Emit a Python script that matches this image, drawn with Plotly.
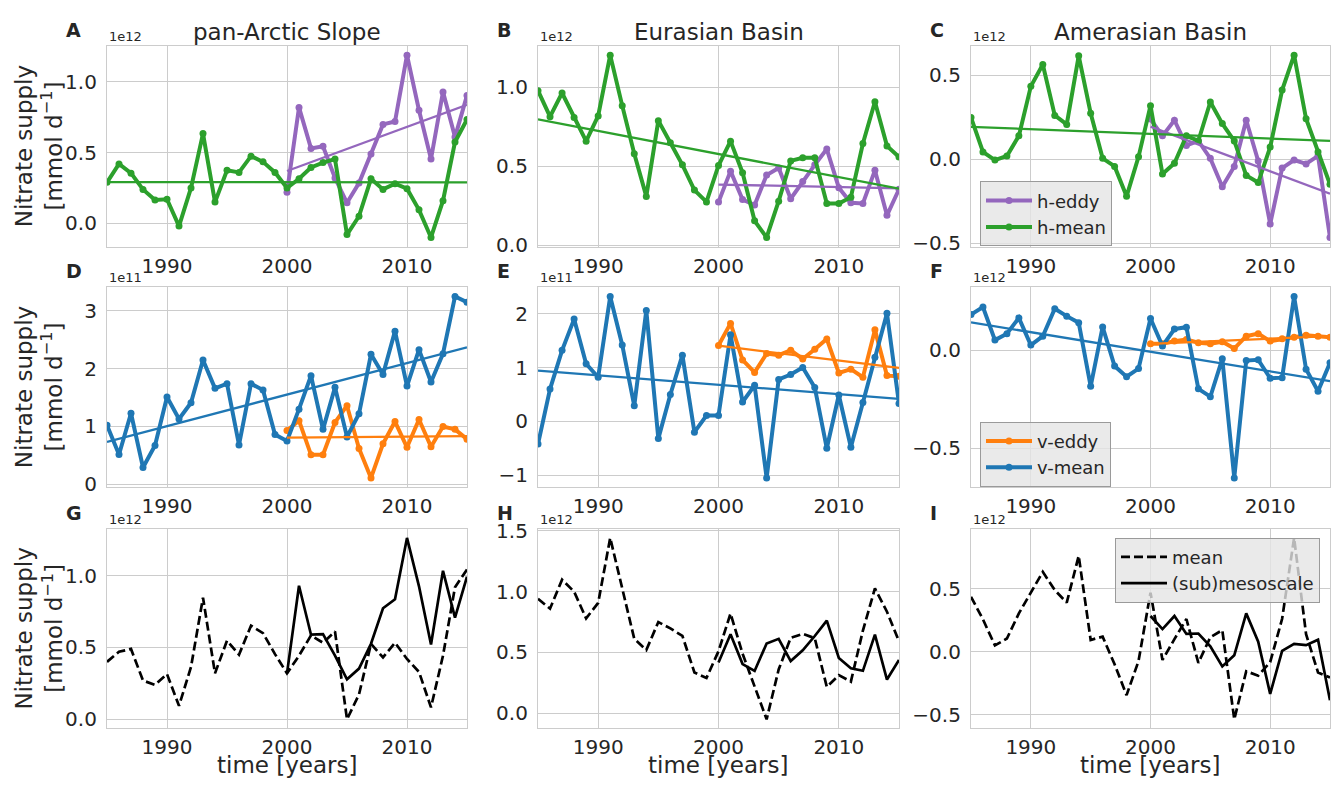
import numpy as np
import plotly.graph_objects as go

# ---------------------------------------------------------------------------
# Nitrate supply time series (mmol d-1)
# ---------------------------------------------------------------------------
years = list(range(1985, 2016))
years_eddy = list(range(2000, 2016))

# horizontal supply, units of 1e12
slope_h_mean = [0.29, 0.42, 0.355, 0.24, 0.165, 0.17, -0.02, 0.25, 0.635, 0.15, 0.375, 0.36,
                0.475, 0.435, 0.36, 0.25, 0.315, 0.395, 0.43, 0.455, -0.08, 0.05, 0.315, 0.24,
                0.28, 0.245, 0.095, -0.10, 0.16, 0.575, 0.735]
slope_h_eddy = [0.22, 0.82, 0.53, 0.545, 0.32, 0.145, 0.285, 0.49, 0.70, 0.72, 1.19, 0.80,
                0.455, 0.93, 0.61, 0.905]

eur_h_mean = [0.98, 0.815, 0.965, 0.81, 0.66, 0.82, 1.205, 0.885, 0.58, 0.31, 0.79, 0.65,
              0.51, 0.35, 0.275, 0.505, 0.66, 0.46, 0.155, 0.05, 0.28, 0.535, 0.555, 0.555,
              0.265, 0.265, 0.305, 0.645, 0.91, 0.63, 0.56]
eur_h_eddy = [0.275, 0.47, 0.29, 0.255, 0.445, 0.49, 0.295, 0.405, 0.51, 0.61, 0.365, 0.27,
              0.265, 0.475, 0.19, 0.355]

ame_h_mean = [0.25, 0.044, -0.004, 0.02, 0.14, 0.435, 0.565, 0.262, 0.208, 0.617, 0.275, 0.006,
              -0.042, -0.22, 0.015, 0.32, -0.087, -0.023, 0.14, 0.11, 0.342, 0.213, 0.11,
              -0.096, -0.138, 0.073, 0.413, 0.621, 0.242, 0.044, -0.148]
ame_h_eddy = [0.24, 0.14, 0.233, 0.083, 0.11, 0.006, -0.163, -0.042, 0.233, -0.01, -0.385,
              -0.052, -0.004, -0.027, 0.021, -0.465]

# vertical supply: slope and Eurasian in units of 1e11, Amerasian in 1e12
slope_v_mean = [1.02, 0.514, 1.23, 0.29, 0.67, 1.51, 1.13, 1.41, 2.15, 1.66, 1.74, 0.68, 1.74,
                1.63, 0.86, 0.75, 1.30, 1.88, 0.95, 1.68, 0.82, 1.22, 2.25, 1.90, 2.65, 1.70,
                2.33, 1.77, 2.26, 3.25, 3.15]
slope_v_eddy = [0.93, 1.10, 0.51, 0.51, 1.07, 1.36, 0.62, 0.11, 0.70, 1.085, 0.64, 1.12, 0.65,
                1.0, 0.95, 0.78]

eur_v_mean = [-0.42, 0.60, 1.32, 1.90, 1.07, 0.82, 2.32, 1.42, 0.29, 2.06, -0.32, 0.50, 1.23,
              -0.20, 0.11, 0.11, 1.61, 0.36, 0.67, -1.05, 0.78, 0.87, 1.0, 0.63, -0.50, 0.49,
              -0.48, 0.35, 1.19, 2.01, 0.33]
eur_v_eddy = [1.41, 1.82, 1.14, 0.91, 1.26, 1.23, 1.32, 1.16, 1.34, 1.53, 0.90, 0.97, 0.82,
              1.70, 0.85, 0.84]

ame_v_mean = [0.181, 0.219, 0.051, 0.084, 0.164, 0.026, 0.071, 0.211, 0.173, 0.14, -0.184,
              0.118, -0.081, -0.135, -0.094, 0.161, 0.021, 0.107, 0.117, -0.197, -0.237,
              -0.044, -0.65, -0.053, -0.049, -0.143, -0.14, 0.273, -0.097, -0.209, -0.064]
ame_v_eddy = [0.033, 0.033, 0.046, 0.054, 0.038, 0.033, 0.043, 0.008, 0.071, 0.084, 0.046,
              0.058, 0.066, 0.076, 0.071, 0.066]

# total supply, units of 1e12
slope_tot_mean = [0.40, 0.47, 0.49, 0.27, 0.24, 0.315, 0.094, 0.364, 0.847, 0.32, 0.548, 0.45,
                  0.652, 0.60, 0.454, 0.32, 0.443, 0.584, 0.533, 0.611, 0.0, 0.173, 0.526,
                  0.431, 0.533, 0.42, 0.33, 0.083, 0.443, 0.92, 1.043]
slope_tot_sub = [0.32, 0.93, 0.589, 0.593, 0.443, 0.279, 0.353, 0.526, 0.773, 0.836, 1.263,
                 0.926, 0.521, 1.034, 0.708, 0.993]

eur_tot_mean = [0.942, 0.86, 1.098, 1.0, 0.78, 0.907, 1.442, 1.03, 0.612, 0.52, 0.75, 0.698,
                0.636, 0.335, 0.29, 0.51, 0.82, 0.49, 0.22, -0.05, 0.36, 0.62, 0.653, 0.617,
                0.217, 0.313, 0.26, 0.68, 1.027, 0.835, 0.591]
eur_tot_sub = [0.417, 0.65, 0.404, 0.348, 0.574, 0.612, 0.429, 0.518, 0.635, 0.762, 0.454,
               0.37, 0.349, 0.646, 0.277, 0.438]

ame_tot_mean = [0.437, 0.257, 0.05, 0.105, 0.305, 0.47, 0.635, 0.49, 0.39, 0.762, 0.094, 0.12,
                -0.1, -0.345, -0.074, 0.47, -0.065, 0.1, 0.26, -0.088, 0.115, 0.172, -0.537,
                -0.155, -0.19, -0.083, 0.262, 0.905, 0.14, -0.165, -0.205]
ame_tot_sub = [0.284, 0.18, 0.284, 0.142, 0.145, 0.043, -0.117, -0.028, 0.305, 0.08, -0.335,
               0.007, 0.063, 0.052, 0.095, -0.385]

region_titles = ["pan-Arctic Slope", "Eurasian Basin", "Amerasian Basin"]
panel_letters = ["A", "B", "C", "D", "E", "F", "G", "H", "I"]
exponent_labels = ["1e12", "1e12", "1e12", "1e11", "1e11", "1e12", "1e12", "1e12", "1e12"]
xtick_years = [1990, 2000, 2010]

# ---------------------------------------------------------------------------
# Styling
# ---------------------------------------------------------------------------
W, H = 1333, 790
FONT = "DejaVu Sans"
TXT = "#262626"
GRID = "#cccccc"
PURPLE, GREEN = "#9467bd", "#2ca02c"
ORANGE, BLUE = "#ff7f0e", "#1f77b4"

col_px = [(107, 467), (538, 899), (971, 1330)]
row_px = [(37, 243), (285, 490), (533, 738)]

fig = go.Figure()


def axis_names(i):
    s = "" if i == 0 else str(i + 1)
    return "x" + s, "y" + s, "xaxis" + s, "yaxis" + s


def add_series(i, x, y, color, name=None, legend=None, markers=True, dash="solid", width=4):
    xa, ya, _, _ = axis_names(i)
    fig.add_trace(go.Scatter(
        x=x, y=y, xaxis=xa, yaxis=ya,
        mode="lines+markers" if markers else "lines",
        line=dict(color=color, width=width, dash=dash),
        marker=dict(size=7, color=color),
        name=name, showlegend=legend is not None,
        legend=legend if legend else "legend",
    ))


def add_trend(i, x, y, color):
    xa, ya, _, _ = axis_names(i)
    k, b = np.polyfit(np.array(x, float), np.array(y, float), 1)
    xe = [x[0], x[-1]]
    fig.add_trace(go.Scatter(
        x=xe, y=[k * v + b for v in xe], xaxis=xa, yaxis=ya, mode="lines",
        line=dict(color=color, width=2.3), showlegend=False, hoverinfo="skip",
    ))


# row 1: horizontal supply
h_sets = [(slope_h_eddy, slope_h_mean), (eur_h_eddy, eur_h_mean), (ame_h_eddy, ame_h_mean)]
for c, (eddy, mean) in enumerate(h_sets):
    leg = "legend" if c == 2 else None
    add_series(c, years_eddy, eddy, PURPLE, "h-eddy", leg)
    add_series(c, years, mean, GREEN, "h-mean", leg)
    add_trend(c, years_eddy, eddy, PURPLE)
    add_trend(c, years, mean, GREEN)

# row 2: vertical supply
v_sets = [(slope_v_eddy, slope_v_mean), (eur_v_eddy, eur_v_mean), (ame_v_eddy, ame_v_mean)]
for c, (eddy, mean) in enumerate(v_sets):
    leg = "legend2" if c == 2 else None
    add_series(3 + c, years_eddy, eddy, ORANGE, "v-eddy", leg)
    add_series(3 + c, years, mean, BLUE, "v-mean", leg)
    add_trend(3 + c, years_eddy, eddy, ORANGE)
    add_trend(3 + c, years, mean, BLUE)

# row 3: totals
t_sets = [(slope_tot_mean, slope_tot_sub), (eur_tot_mean, eur_tot_sub), (ame_tot_mean, ame_tot_sub)]
for c, (mean, sub) in enumerate(t_sets):
    leg = "legend3" if c == 2 else None
    add_series(6 + c, years, mean, "black", "mean", leg, markers=False, dash="9px,4px", width=2.7)
    add_series(6 + c, years_eddy, sub, "black", "(sub)mesoscale", leg, markers=False, width=2.7)

# ---------------------------------------------------------------------------
# Axes
# ---------------------------------------------------------------------------
all_series = [
    [slope_h_eddy, slope_h_mean], [eur_h_eddy, eur_h_mean], [ame_h_eddy, ame_h_mean],
    [slope_v_eddy, slope_v_mean], [eur_v_eddy, eur_v_mean], [ame_v_eddy, ame_v_mean],
    [slope_tot_mean, slope_tot_sub], [eur_tot_mean, eur_tot_sub], [ame_tot_mean, ame_tot_sub],
]
annotations = []
layout_axes = {}
for i in range(9):
    r, c = divmod(i, 3)
    x0, x1 = col_px[c]
    y0, y1 = row_px[r]
    _, _, xk, yk = axis_names(i)
    xa, ya, _, _ = axis_names(i)
    vals = np.concatenate([np.array(s, float) for s in all_series[i]])
    lo, hi = vals.min(), vals.max()
    pad = 0.05 * (hi - lo)
    step = 1 if exponent_labels[i] == "1e11" else 0.5
    layout_axes[xk] = dict(
        domain=[x0 / W, x1 / W], anchor=ya, range=[1985, 2015],
        tickvals=xtick_years, showgrid=True, gridcolor=GRID, gridwidth=1,
        showline=True, linecolor=GRID, linewidth=1.2, mirror=True, zeroline=False,
        ticks="", tickfont=dict(family=FONT, size=20, color=TXT), ticklabelstandoff=1,
    )
    layout_axes[yk] = dict(
        domain=[1 - y1 / H, 1 - y0 / H], anchor=xa, range=[lo - pad, hi + pad],
        tick0=0, dtick=step, tickformat="d" if step == 1 else ".1f",
        showgrid=True, gridcolor=GRID, gridwidth=1,
        showline=True, linecolor=GRID, linewidth=1.2, mirror=True, zeroline=False,
        ticks="", tickfont=dict(family=FONT, size=20, color=TXT), ticklabelstandoff=5,
    )
    # exponent label above the axes
    annotations.append(dict(
        x=x0 / W, y=1 - y0 / H, xref="paper", yref="paper",
        xanchor="left", yanchor="bottom", showarrow=False, text=exponent_labels[i],
        font=dict(family=FONT, size=13, color=TXT),
    ))
    # panel letter
    annotations.append(dict(
        x=(x0 - 43) / W, y=1 - (y0 - 16.5) / H, xref="paper", yref="paper",
        xanchor="left", yanchor="middle", showarrow=False,
        text="<b>%s</b>" % panel_letters[i], font=dict(family=FONT, size=19, color=TXT),
    ))

for c in range(3):
    x0, x1 = col_px[c]
    annotations.append(dict(
        x=(x0 + x1) / 2 / W, y=1 - 22.5 / H, xref="paper", yref="paper",
        xanchor="center", yanchor="middle", showarrow=False, text=region_titles[c],
        font=dict(family=FONT, size=23, color=TXT),
    ))
    annotations.append(dict(
        x=(x0 + x1) / 2 / W, y=1 - 776 / H, xref="paper", yref="paper",
        xanchor="center", yanchor="middle", showarrow=False, text="time [years]",
        font=dict(family=FONT, size=23, color=TXT),
    ))

for r in range(3):
    y0, y1 = row_px[r]
    annotations.append(dict(
        x=39 / W, y=1 - (y0 + y1) / 2 / H, xref="paper", yref="paper",
        xanchor="center", yanchor="middle", showarrow=False, textangle=-90,
        text="Nitrate supply<br>[mmol d<sup>\u22121</sup>]", align="center",
        font=dict(family=FONT, size=23, color=TXT),
    ))

legend_style = dict(
    xref="paper", yref="paper", xanchor="left", yanchor="top",
    bgcolor="rgba(229,229,229,0.8)", bordercolor="#9a9a9a", borderwidth=1,
    font=dict(family=FONT, size=18, color=TXT), itemwidth=46, tracegroupgap=0,
)

fig.update_layout(
    width=W, height=H, margin=dict(l=0, r=0, t=0, b=0),
    paper_bgcolor="white", plot_bgcolor="white",
    font=dict(family=FONT, color=TXT),
    annotations=annotations,
    legend=dict(x=980 / W, y=1 - 176 / H, **legend_style),
    legend2=dict(x=980 / W, y=1 - 423 / H, **legend_style),
    legend3=dict(x=1115 / W, y=1 - 542 / H, **legend_style),
    **layout_axes,
)

fig.write_html("out.html")
